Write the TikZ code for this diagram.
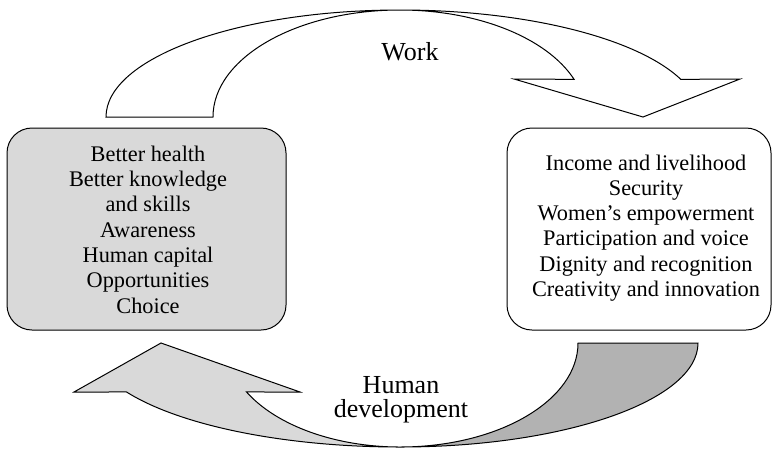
\documentclass[tikz,border=0pt]{standalone}
\usepackage{fontspec}
\setmainfont{Liberation Serif}
\definecolor{palegray}{RGB}{217,217,217}
\definecolor{midgray}{RGB}{178,178,178}
\begin{document}
\begin{tikzpicture}[x=1pt,y=-1pt,line join=miter,
  outline/.style={draw=black,line width=1pt},
  panel/.style={outline,rounded corners=25pt,inner sep=0pt},
  listtext/.style={align=center,anchor=base,inner sep=0pt,
    font=\fontsize{22.3}{25.3}\selectfont},
  flowlabel/.style={align=center,anchor=base,inner sep=0pt,
    font=\fontsize{26}{23.5}\selectfont}]
\useasboundingbox (0,0) rectangle (773,451);

% upper block arrow, bending from the left panel over to the right one
\draw[outline,fill=white]
  (106,117) -- (213,117)
  arc[start angle=180,end angle=270,x radius=187,y radius=107]
  arc[start angle=270,end angle=339.4,x radius=186,y radius=107]
  -- (514,79) -- (643,117) -- (740,79)
  -- ([shift={(400,117)}]339.4:300 and 107)
  arc[start angle=339.4,end angle=270,x radius=300,y radius=107]
  arc[start angle=270,end angle=180,x radius=294,y radius=107]
  -- cycle;

% lower block arrow: darker back half on the right
\draw[outline,fill=midgray]
  (578,343) -- (698,343)
  arc[start angle=0,end angle=90,x radius=298,y radius=104]
  arc[start angle=90,end angle=0,x radius=178,y radius=104]
  -- cycle;
% lighter front half ending in the head on the left
\draw[outline,fill=palegray]
  (400,447)
  arc[start angle=90,end angle=151.9,x radius=310,y radius=104]
  -- (74,392) -- (161,343) -- (300,392)
  -- ([shift={(400,343)}]151.9:174 and 104)
  arc[start angle=151.9,end angle=90,x radius=174,y radius=104]
  -- cycle;

% the two panels
\node (leftpanel) [panel,fill=palegray,minimum width=279pt,minimum height=202pt]
  at (146.5,229) {};
\node (rightpanel) [panel,fill=white,minimum width=264pt,minimum height=202pt]
  at (639,229) {};

% list texts, placed by the baseline of their last line
\node (lefttext) [listtext] at (148,313)
  {Better health\\Better knowledge\\and skills\\Awareness\\Human capital\\Opportunities\\Choice};
\node (righttext) [listtext] at (646,296.5)
  {Income and livelihood\\Security\\Women’s empowerment\\Participation and voice\\Dignity and recognition\\Creativity and innovation};

\node (worklabel) [flowlabel] at (410,60) {Work};
\node (hdlabel) [flowlabel] at (401,417) {Human\\development};
\end{tikzpicture}
\end{document}
